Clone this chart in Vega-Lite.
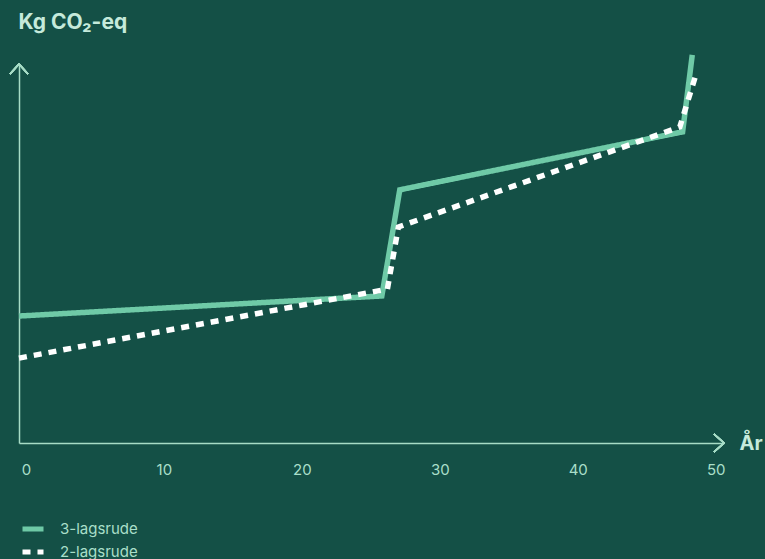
{
  "$schema": "https://vega.github.io/schema/vega-lite/v6.json",
  "width": 705,
  "height": 379,
  "autosize": "none",
  "padding": {"left": 19, "top": 64, "right": 41, "bottom": 116},
  "background": "#145046",
  "config": {
    "view": {"stroke": null},
    "font": "Inter",
    "axis": {"domainColor": "#a7dcc6", "domainWidth": 1.5, "grid": false, "ticks": false, "tickSize": 0}
  },
  "data": {
    "values": [
      {"serie": "3-lagsrude", "aar": -0.5, "co2": 33.5},
      {"serie": "3-lagsrude", "aar": 25.8, "co2": 38.8},
      {"serie": "3-lagsrude", "aar": 27.1, "co2": 66.8},
      {"serie": "3-lagsrude", "aar": 47.6, "co2": 82.1},
      {"serie": "3-lagsrude", "aar": 48.3, "co2": 102.4},
      {"serie": "2-lagsrude", "aar": -0.5, "co2": 22.4},
      {"serie": "2-lagsrude", "aar": 26.2, "co2": 40.6},
      {"serie": "2-lagsrude", "aar": 27.0, "co2": 57.0},
      {"serie": "2-lagsrude", "aar": 47.4, "co2": 83.4},
      {"serie": "2-lagsrude", "aar": 48.6, "co2": 97.6}
    ]
  },
  "encoding": {
    "x": {
      "field": "aar", "type": "quantitative",
      "scale": {"domain": [-0.5, 50.6], "nice": false, "zero": false},
      "axis": {
        "values": [0, 10, 20, 30, 40, 50],
        "labelColor": "#a9dfc9", "labelFontSize": 15, "labelBaseline": "middle",
        "labelPadding": 26, "labelFlush": false,
        "title": "År", "titleColor": "#c5eadb", "titleFontSize": 20, "titleFontWeight": "bold",
        "titleAlign": "left", "titleBaseline": "middle", "titleX": 720, "titleY": 0, "titleAngle": 0
      }
    },
    "y": {
      "field": "co2", "type": "quantitative",
      "scale": {"domain": [0, 100], "nice": false},
      "axis": {
        "labels": false,
        "title": "Kg CO₂-eq", "titleColor": "#c5eadb", "titleFontSize": 21, "titleFontWeight": "bold",
        "titleAngle": 0, "titleAlign": "left", "titleBaseline": "middle", "titleX": -1, "titleY": -42
      }
    }
  },
  "layer": [
    {
      "mark": {"type": "line", "strokeWidth": 5.5, "strokeCap": "butt", "strokeJoin": "miter"},
      "encoding": {
        "color": {
          "field": "serie", "type": "nominal",
          "scale": {"domain": ["3-lagsrude", "2-lagsrude"], "range": ["#6fcaa7", "#ffffff"]},
          "legend": {
            "title": null, "orient": "none", "legendX": 1, "legendY": 452,
            "symbolSize": 441, "symbolStrokeWidth": 5, "symbolType": "stroke",
            "labelColor": "#a9dfc9", "labelFontSize": 15, "labelOffset": 14,
            "rowPadding": 0, "padding": 0
          }
        },
        "strokeDash": {
          "field": "serie", "type": "nominal",
          "scale": {"domain": ["3-lagsrude", "2-lagsrude"], "range": [[1, 0], [8, 7]]},
          "legend": {
            "title": null, "orient": "none", "legendX": 1, "legendY": 452,
            "symbolSize": 441, "symbolStrokeWidth": 5, "symbolType": "stroke",
            "labelColor": "#a9dfc9", "labelFontSize": 15, "labelOffset": 14,
            "rowPadding": 0, "padding": 0
          }
        }
      }
    },
    {
      "mark": {"type": "point", "shape": "M -1 -0.9 L 0 0 L -1 0.9", "filled": false, "stroke": "#a7dcc6", "strokeWidth": 1.5, "size": 400, "opacity": 1},
      "encoding": {"x": {"datum": 50.6}, "y": {"datum": 0}}
    },
    {
      "mark": {"type": "point", "shape": "M -0.9 1 L 0 0 L 0.9 1", "filled": false, "stroke": "#a7dcc6", "strokeWidth": 1.5, "size": 400, "opacity": 1},
      "encoding": {"x": {"datum": -0.5}, "y": {"datum": 100}}
    }
  ]
}
